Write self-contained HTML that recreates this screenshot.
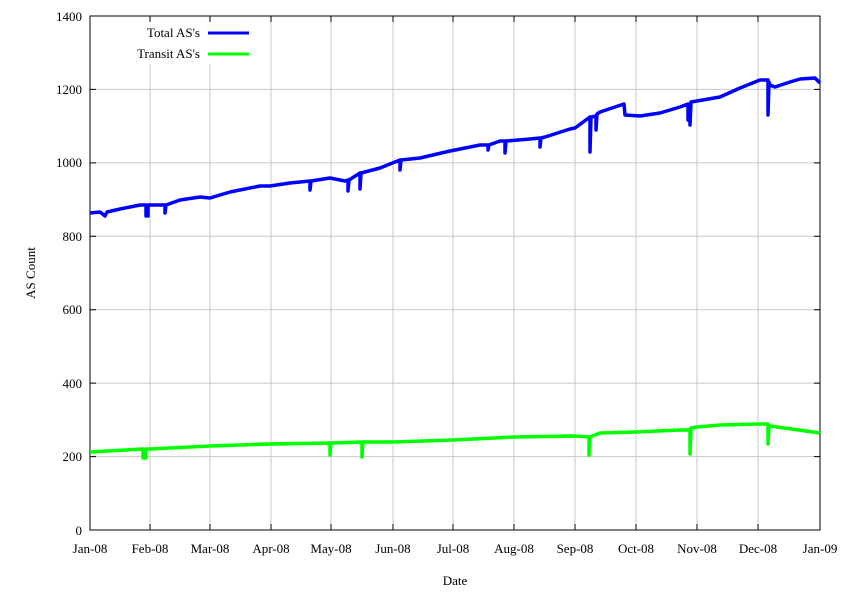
<!DOCTYPE html><html><head><style>body{margin:0;background:#fff}</style></head><body>
<svg width="846" height="594" xmlns="http://www.w3.org/2000/svg" font-family="Liberation Serif, serif" font-size="13">
<rect width="846" height="594" fill="#fff"/>
<g stroke="#c8c8c8" stroke-width="1">
<line x1="90" y1="456.6" x2="820" y2="456.6"/><line x1="90" y1="383.1" x2="820" y2="383.1"/><line x1="90" y1="309.7" x2="820" y2="309.7"/><line x1="90" y1="236.3" x2="820" y2="236.3"/><line x1="90" y1="162.9" x2="820" y2="162.9"/><line x1="90" y1="89.4" x2="820" y2="89.4"/>
<line x1="150" y1="16" x2="150" y2="530"/><line x1="210" y1="16" x2="210" y2="530"/><line x1="271" y1="16" x2="271" y2="530"/><line x1="331" y1="16" x2="331" y2="530"/><line x1="393" y1="16" x2="393" y2="530"/><line x1="453" y1="16" x2="453" y2="530"/><line x1="514" y1="16" x2="514" y2="530"/><line x1="575" y1="16" x2="575" y2="530"/><line x1="636" y1="16" x2="636" y2="530"/><line x1="697" y1="16" x2="697" y2="530"/><line x1="758" y1="16" x2="758" y2="530"/>
</g>
<rect x="130" y="17" width="125" height="47" fill="#fff"/>
<g stroke="#000" stroke-width="1">
<rect x="90" y="16" width="730" height="514" fill="none"/>
<path d="M90 456.6h6M90 383.1h6M90 309.7h6M90 236.3h6M90 162.9h6M90 89.4h6M814 456.6h6M814 383.1h6M814 309.7h6M814 236.3h6M814 162.9h6M814 89.4h6M150 530v-6M210 530v-6M271 530v-6M331 530v-6M393 530v-6M453 530v-6M514 530v-6M575 530v-6M636 530v-6M697 530v-6M758 530v-6M150 16v6M210 16v6M271 16v6M331 16v6M393 16v6M453 16v6M514 16v6M575 16v6M636 16v6M697 16v6M758 16v6"/>
</g>
<g text-anchor="end">
<text x="82" y="535">0</text><text x="82" y="461">200</text><text x="82" y="388">400</text><text x="82" y="314">600</text><text x="82" y="241">800</text><text x="82" y="167">1000</text><text x="82" y="94">1200</text><text x="82" y="21">1400</text>
</g>
<g text-anchor="middle">
<text x="90" y="553">Jan-08</text><text x="150" y="553">Feb-08</text><text x="210" y="553">Mar-08</text><text x="271" y="553">Apr-08</text><text x="331" y="553">May-08</text><text x="393" y="553">Jun-08</text><text x="453" y="553">Jul-08</text><text x="514" y="553">Aug-08</text><text x="575" y="553">Sep-08</text><text x="636" y="553">Oct-08</text><text x="697" y="553">Nov-08</text><text x="758" y="553">Dec-08</text><text x="820" y="553">Jan-09</text>
<text x="455" y="585">Date</text>
<text transform="translate(35,273) rotate(-90)">AS Count</text>
</g>
<text x="200" y="37" text-anchor="end">Total AS's</text>
<text x="200" y="58" text-anchor="end">Transit AS's</text>
<line x1="208" y1="33" x2="249" y2="33" stroke="#0000ff" stroke-width="3"/>
<line x1="208" y1="54" x2="249" y2="54" stroke="#00ff00" stroke-width="3"/>
<g fill="none" stroke-width="3.5" stroke-linejoin="round">
<polyline stroke="#0000ff" points="90,213 100,212 105,216 107,212 120,209 140,205 146,205 146,216 148,216 148,205 150,205 160,205 165,205 165,213 166,205 180,200 200,197 210,198 230,192 260,186 270,186 290,183 310,181 310,190 311,181 330,178 345,181 348,180 348,191 349,180 360,173 360,189 361,173 380,168 400,160 400,170 401,160 420,158 450,151 480,145 488,145 488,150 489,145 500,141 505,141 505,153 506,141 530,139 540,138 540,147 541,138 545,137 570,129 575,128 590,117 590,152 591,117 596,116 596,130 597,114 600,112 624,104 625,115 640,116 660,113 680,107 688,104 688,120 690,104 690,125 691,102 720,97 740,88 760,80 768,80 768,115 769,82 770,85 775,87 790,82 800,79 815,78 817,80 820,83"/>
<polyline stroke="#00ff00" points="90,452 143,449 143,458 146,458 146,449 150,449 210,446 270,444 330,443 330,455 331,443 362,442 362,457 363,442 393,442 453,440 514,437 575,436 589,437 589,455 590,437 600,433 636,432 680,430 690,430 690,454 691,428 697,427 720,425 760,424 768,424 768,444 769,426 770,426 820,433"/>
</g>
</svg>
</body></html>
